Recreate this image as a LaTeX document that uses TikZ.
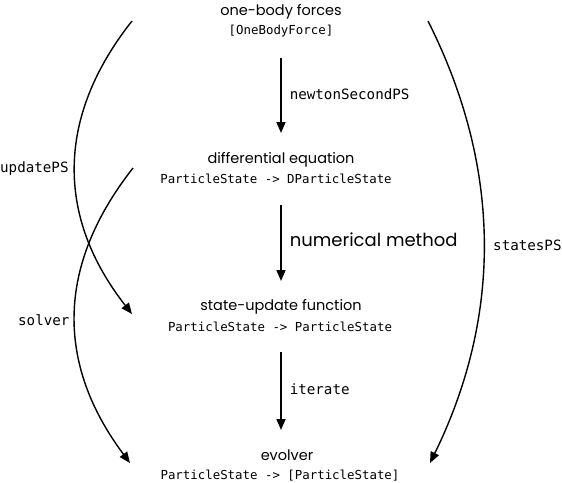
\documentclass[tikz,border=0pt]{standalone}
\usepackage{fontspec}
\setmainfont{Poppins}
\setmonofont{DejaVu Sans Mono}
\usetikzlibrary{arrows.meta}
\begin{document}
\begin{tikzpicture}[x=1pt,y=-1pt,
  title/.style={font=\fontsize{14.5}{16}\selectfont, anchor=base, inner sep=0pt},
  code/.style={font=\ttfamily\fontsize{12.4}{14}\selectfont, anchor=base, inner sep=0pt},
  lbl/.style={font=\ttfamily\fontsize{14.2}{16}\selectfont, anchor=base west, inner sep=0pt},
  big/.style={font=\fontsize{18}{20}\selectfont, anchor=base west, inner sep=0pt},
  arr/.style={line width=1.6pt, -{Triangle[length=11pt,width=9pt]}},
  crv/.style={line width=1.4pt, -{Triangle[length=11pt,width=9pt]}}]
\useasboundingbox (0,0) rectangle (562,482);

% blocks
\node[title] (t1) at (281,15) {one-body forces};
\node[code]  (c1) at (281,34) {[OneBodyForce]};
\node[title] (t2) at (281,163) {differential equation};
\node[code]  (c2) at (276,183) {ParticleState -> DParticleState};
\node[title] (t3) at (281,310) {state-update function};
\node[code]  (c3) at (280,331) {ParticleState -> ParticleState};
\node[title] (t4) at (287,460) {evolver};
\node[code]  (c4) at (280,479) {ParticleState -> [ParticleState]};

% vertical arrow ends
\coordinate (a1s) at (281,58);  \coordinate (a1e) at (281,133);
\coordinate (a2s) at (281,205); \coordinate (a2e) at (281,281);
\coordinate (a3s) at (281,352); \coordinate (a3e) at (281,430);

\draw[arr] (a1s) -- (a1e) node[lbl, pos=0.55, xshift=8pt] (l1) {newtonSecondPS};
\draw[arr] (a2s) -- (a2e) node[big, pos=0.55, xshift=8pt] (l2) {numerical method};
\draw[arr] (a3s) -- (a3e) node[lbl, pos=0.55, xshift=8pt] (l3) {iterate};

% curved connectors
\coordinate (u0) at (132,21);  \coordinate (u1) at (132,314);
\coordinate (s0) at (133,168); \coordinate (s1) at (130,463);
\coordinate (p0) at (428,21);  \coordinate (p1) at (430,463);

\draw[crv] (u0) .. controls (56,117) and (56,217) .. (u1);
\draw[crv] (s0) .. controls (56,266) and (56,364) .. (s1);
\draw[crv] (p0) .. controls (502,168) and (502,316) .. (p1);

\node[lbl] (lu) at (0,172) {updatePS};
\node[lbl] (ls) at (18,325) {solver};
\node[lbl] (lp) at (493,250) {statesPS};
\end{tikzpicture}
\end{document}
